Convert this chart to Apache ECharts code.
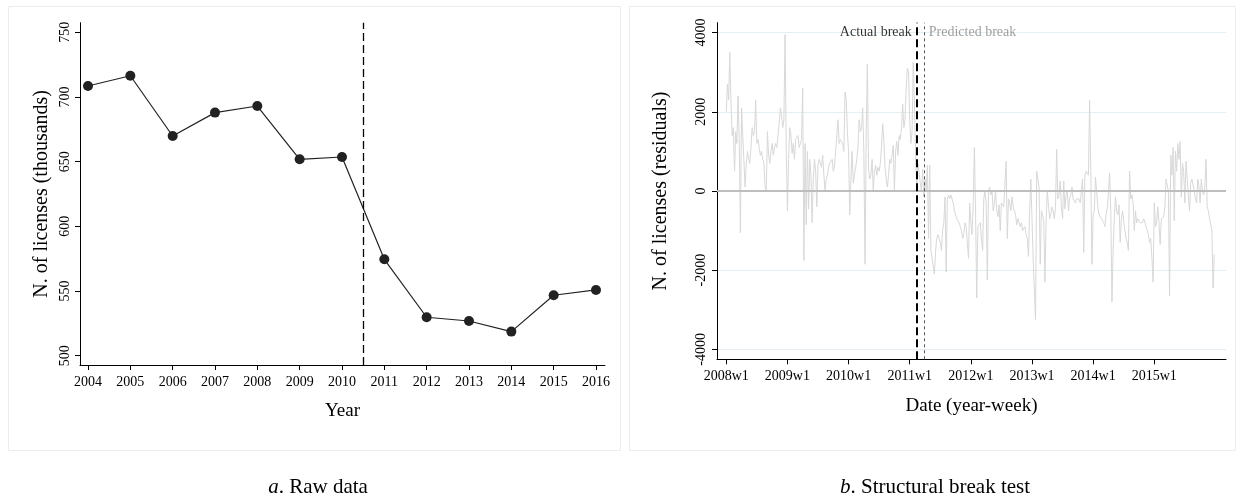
<!DOCTYPE html>
<html><head><meta charset="utf-8">
<script src="https://cdn.jsdelivr.net/npm/echarts@6/dist/echarts.min.js"></script>
<style>html,body{margin:0;padding:0;background:#fff}#c{width:1238px;height:503px}</style>
</head><body><div id="c"></div><script>
// ---- Panel a: raw data ----
const years = [2004, 2005, 2006, 2007, 2008, 2009, 2010, 2011, 2012, 2013, 2014, 2015, 2016];
const licenses = [708.5, 716.4, 669.8, 687.9, 693, 651.8, 653.6, 574.5, 529.7, 526.8, 518.6, 546.7, 550.8];
const yTicksA = [500, 550, 600, 650, 700, 750];
const breakYear = 2010.5;

// ---- Panel b: weekly residuals (52 weeks per year) ----
const res2008 = [2000,2700,2300,3500,2200,1400,1600,500,1500,1200, 2400,1300,-1050,2100,1400,1400,100,700,1000,800, 700,1100,1600,1400,1500,2300,1200,1300,1100,900, 1000,800,700,100,0,1500,900,700,1000,1200, 900,1100,1200,1100,1400,1700,2100,1900,1600,1800, 3950,1000];
const res2009 = [-500,800,1600,1400,950,1200,800,1300,1350,1400, 1100,1100,1300,2600,-1750,1200,-850,1000,-450,800, 400,-800,300,800,500,-400,650,800,850,600, 900,400,0,300,400,600,700,700,800,500, 600,1000,1400,1800,1200,1300,1250,1200,1000,2500, 2300,1500];
const res2010 = [1000,-600,300,1000,200,400,600,800,1100,1800, 1500,1600,2100,1000,-1850,1500,3200,550,300,400, 800,0,500,650,400,600,500,700,1100,1700, 1300,600,300,100,400,800,700,900,1150,0, 1000,1250,900,1400,1300,1600,2200,1600,1800,2600, 3100,3000];
const res2011 = [1800,1200,1500,3250,2300,900,0,700,750,200, 0,550,-150,300,0,650,-1200,650,-1500,-1700, -1700,-2100,-1500,-1200,-1100,-1100,-1300,-1500,-1000,-800, -150,-2050,-200,-100,-200,-100,-50,-300,-500,-550, -700,-650,-800,-900,-1000,-1200,-1100,-800,-900,-1300, -1700,-300];
const res2012 = [-800,-1100,-300,1100,-500,-2700,-900,-850,-800,-1200, -1500,-200,0,-300,-2250,0,100,-100,0,-500, -300,0,-500,-650,-350,-1000,-300,-270,-400,-350, 750,-1200,-200,-300,-500,-150,-400,-500,-600,-850, -700,-750,-900,-800,-1000,-950,-900,-1100,-1200,-1650, -500,300];
const res2013 = [-700,-1700,-2500,-3250,500,450,100,-1850,-500,-600, -750,-2300,-800,0,-50,-700,-600,-400,-500,-700, -400,1050,-200,-100,250,-400,-700,250,-450,-100, 0,-500,-200,-100,100,-200,-250,-300,-200,-250, -200,-300,-350,300,-1550,400,500,550,400,2300, 500,-1850];
const res2014 = [-600,-500,350,300,-400,-600,-650,-700,-750,-800, -900,-600,-450,-50,450,-500,-2800,-1500,-700,-150, -500,-600,-350,-1300,-700,-500,-450,-1000,-1200,-1300, -1500,500,-200,-100,-300,-1000,-500,-800,-700,-750, -800,-750,-800,-700,-800,-750,-1000,-1100,-1300,-1200, -1700,-2300];
const res2015 = [-300,-900,-800,-400,-800,-1350,-700,-700,-650,-400, 300,300,0,-2650,900,400,1100,-750,1000,500, 1200,800,1250,-150,700,500,-300,750,300,300, -500,200,300,250,0,-200,-300,300,100,-300, 300,0,-100,100,800,-400,-500,-700,-850,-1000, -2450,-1600];
const weekTickValues = [0, 52, 104, 156, 208, 260, 312, 364];
const weekTickLabels = ['2008w1', '2009w1', '2010w1', '2011w1', '2012w1', '2013w1', '2014w1', '2015w1'];
const yTicksB = [-4000, -2000, 0, 2000, 4000];
const actualBreakWeek = 162;   // 2011w7
const predictedBreakWeek = 168; // 2011w13

const residualYears = [res2008, res2009, res2010, res2011, res2012, res2013, res2014, res2015];
const weekly = [];
residualYears.forEach((arr, yi) => arr.forEach((v, wi) => weekly.push([yi * 52 + wi, v])));

const FONT = 'Liberation Serif';
const axisBase = {
  axisLine: { show: true, onZero: false, lineStyle: { color: '#000', width: 1 } },
  splitLine: { show: false },
  nameLocation: 'middle',
  nameTextStyle: { fontFamily: FONT, fontSize: 20, color: '#000' }
};

const chart = echarts.init(document.getElementById('c'));
chart.setOption({
  backgroundColor: '#fff',
  animation: false,
  graphic: [
    { type: 'rect', z: -10, shape: { x: 8.5, y: 6.5, width: 612, height: 444 }, style: { fill: 'none', stroke: '#ececec', lineWidth: 1 } },
    { type: 'rect', z: -10, shape: { x: 629.5, y: 6.5, width: 606, height: 444 }, style: { fill: 'none', stroke: '#ececec', lineWidth: 1 } },
    { type: 'text', x: 318, y: 487, style: { text: '{i|a}. Raw data', align: 'center', verticalAlign: 'middle', font: '21px "Liberation Serif"', fill: '#000', rich: { i: { fontStyle: 'italic', fontFamily: FONT, fontSize: 21 } } } },
    { type: 'text', x: 935, y: 487, style: { text: '{i|b}. Structural break test', align: 'center', verticalAlign: 'middle', font: '21px "Liberation Serif"', fill: '#000', rich: { i: { fontStyle: 'italic', fontFamily: FONT, fontSize: 21 } } } }
  ],
  grid: [
    { left: 80, top: 22.7, width: 525, height: 342.3 },
    { left: 717, top: 22.7, width: 509, height: 336.6 }
  ],
  xAxis: [
    Object.assign({}, axisBase, {
      gridIndex: 0, type: 'value', min: 2003.811, max: 2016.213,
      name: 'Year', nameGap: 37, nameTextStyle: { fontFamily: FONT, fontSize: 19, color: '#000' },
      axisTick: { show: true, length: 5, customValues: years, lineStyle: { color: '#000' } },
      axisLabel: { customValues: years, formatter: v => String(v), fontFamily: FONT, fontSize: 14, color: '#000', margin: 10 }
    }),
    Object.assign({}, axisBase, {
      gridIndex: 1, type: 'value', min: -7.9, max: 425,
      name: 'Date (year-week)', nameGap: 37, nameTextStyle: { fontFamily: FONT, fontSize: 19, color: '#000' },
      axisTick: { show: true, length: 5, customValues: weekTickValues, lineStyle: { color: '#000' } },
      axisLabel: { customValues: weekTickValues, formatter: v => weekTickLabels[weekTickValues.indexOf(v)] || '', fontFamily: FONT, fontSize: 14, color: '#000', margin: 10 }
    })
  ],
  yAxis: [
    Object.assign({}, axisBase, {
      gridIndex: 0, type: 'value', min: 492.8, max: 757.4,
      name: 'N. of licenses (thousands)', nameGap: 28,
      axisTick: { show: true, length: 5, customValues: yTicksA, lineStyle: { color: '#000' } },
      axisLabel: { customValues: yTicksA, formatter: v => String(v), rotate: 90, fontFamily: FONT, fontSize: 14, color: '#000', margin: 8 }
    }),
    Object.assign({}, axisBase, {
      gridIndex: 1, type: 'value', min: -4250, max: 4250,
      name: 'N. of licenses (residuals)', nameGap: 46,
      axisTick: { show: true, length: 5, customValues: yTicksB, lineStyle: { color: '#000' } },
      axisLabel: { customValues: yTicksB, formatter: v => String(v), rotate: 90, fontFamily: FONT, fontSize: 14, color: '#000', margin: 9 },
      splitLine: { show: true, lineStyle: { color: '#e5eef2', width: 1 } }
    })
  ],
  series: [
    {
      type: 'line', xAxisIndex: 0, yAxisIndex: 0,
      data: years.map((y, i) => [y, licenses[i]]),
      symbol: 'circle', symbolSize: 10,
      itemStyle: { color: '#222' }, lineStyle: { color: '#222', width: 1.2 },
      markLine: { silent: true, symbol: 'none', label: { show: false },
        lineStyle: { color: '#000', width: 1.3, type: [8, 4] },
        data: [{ xAxis: breakYear }] }
    },
    {
      type: 'line', xAxisIndex: 1, yAxisIndex: 1, data: weekly,
      showSymbol: false, symbol: 'none',
      lineStyle: { color: '#d8d8d8', width: 1 },
      markLine: { silent: true, symbol: 'none', label: { show: false },
        data: [
          { yAxis: 0, lineStyle: { color: '#bdbdbd', width: 2, type: 'solid' } },
          { xAxis: actualBreakWeek, lineStyle: { color: '#000', width: 2, type: [8, 4] } },
          { xAxis: predictedBreakWeek, lineStyle: { color: '#555', width: 1, type: [3, 3] } }
        ] }
    },
    {
      type: 'scatter', xAxisIndex: 1, yAxisIndex: 1, symbolSize: 0, silent: true,
      data: [
        { value: [actualBreakWeek, 4000], label: { show: true, position: 'left', distance: 5, formatter: 'Actual break', color: '#000', fontFamily: FONT, fontSize: 14 } },
        { value: [predictedBreakWeek, 4000], label: { show: true, position: 'right', distance: 5, formatter: 'Predicted break', color: '#888', fontFamily: FONT, fontSize: 14 } }
      ]
    }
  ]
});
</script></body></html>
